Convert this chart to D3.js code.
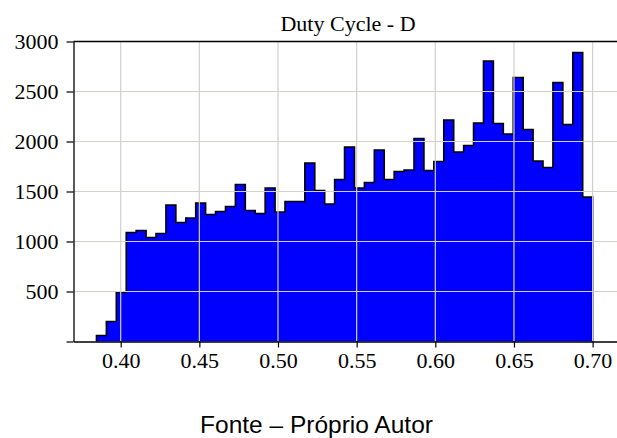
<!DOCTYPE html>
<html>
<head>
<meta charset="utf-8">
<script src="https://cdn.jsdelivr.net/npm/d3@7"></script>
<style>
  body { margin: 0; background: #fff; }
  svg { display: block; }
  .tick text { font-family: "Liberation Serif", "Times New Roman", serif; font-size: 22px; fill: #000; }
  .grid line { stroke: #d3cfcb; stroke-width: 1.2; }
</style>
</head>
<body>
<div class="chart"></div>
<script>
// Histogram of duty cycle values (50 equal bins)
var binLo = 0.3846;
var binHi = 0.70;
var counts = [60, 200, 490, 1090, 1110, 1040, 1080, 1365, 1190, 1235,
              1385, 1270, 1300, 1350, 1570, 1310, 1280, 1535, 1295, 1400,
              1400, 1785, 1510, 1375, 1620, 1945, 1535, 1590, 1915, 1620,
              1700, 1715, 2030, 1710, 1800, 2215, 1895, 1960, 2185, 2805,
              2180, 2075, 2640, 2120, 1805, 1740, 2590, 2170, 2890, 1445];
var xTicks = [0.40, 0.45, 0.50, 0.55, 0.60, 0.65, 0.70];
var yTicks = [0, 500, 1000, 1500, 2000, 2500, 3000];

var svgWidth = 617;
var svgHeight = 438;
var margin = {top: 41.5, right: 0, bottom: 96.5, left: 73.5};
var width = svgWidth - margin.left - margin.right;
var height = svgHeight - margin.top - margin.bottom;

var svg = d3.select(".chart")
    .append("svg")
    .attr("width", svgWidth)
    .attr("height", svgHeight);

var chart = svg.append("g")
    .attr("transform", "translate(" + margin.left + "," + margin.top + ")");

var x = d3.scaleLinear().domain([0.37, 0.7155]).range([0, width]);
var y = d3.scaleLinear().domain([0, 3000]).range([height, 0]);

// bin edges
var binW = (binHi - binLo) / counts.length;
var bins = counts.map(function(c, i) {
    return {x0: binLo + i * binW, x1: binLo + (i + 1) * binW, n: c};
});

// stepfilled outline
var pts = [[x(bins[0].x0), y(0)]];
bins.forEach(function(b) {
    pts.push([x(b.x0), y(b.n)]);
    pts.push([x(b.x1), y(b.n)]);
});
pts.push([x(binHi), y(0)]);

chart.append("path")
    .attr("d", d3.line()(pts))
    .style("fill", "#0000ff")
    .style("stroke", "#000")
    .style("stroke-width", 1.6)
    .style("stroke-linejoin", "miter");

// grid on top
var grid = chart.append("g").attr("class", "grid");
grid.selectAll(".vg")
    .data(xTicks)
    .enter()
    .append("line")
    .attr("x1", function(d) { return x(d); })
    .attr("x2", function(d) { return x(d); })
    .attr("y1", 0)
    .attr("y2", height);
grid.selectAll(".hg")
    .data(yTicks.slice(1))
    .enter()
    .append("line")
    .attr("x1", 0)
    .attr("x2", width)
    .attr("y1", function(d) { return y(d); })
    .attr("y2", function(d) { return y(d); });

// axes
var bottomAxis = d3.axisBottom(x)
    .tickValues(xTicks)
    .tickFormat(d3.format(".2f"))
    .tickSize(6)
    .tickPadding(5)
    .tickSizeOuter(0);

var leftAxis = d3.axisLeft(y)
    .tickValues(yTicks)
    .tickFormat(function(d) { return d === 0 ? "" : d; })
    .tickSize(7)
    .tickPadding(8)
    .tickSizeOuter(0);

var xg = chart.append("g")
    .attr("transform", "translate(0," + height + ")")
    .call(bottomAxis);
var yg = chart.append("g").call(leftAxis);

[xg, yg].forEach(function(g) {
    g.select(".domain").style("stroke", "#000").style("stroke-width", 1.3);
    g.selectAll(".tick line").style("stroke", "#000").style("stroke-width", 1.2);
});
yg.selectAll(".tick text").attr("dy", "0.34em");

// top spine
chart.append("line")
    .attr("x1", 0).attr("x2", width)
    .attr("y1", 0).attr("y2", 0)
    .style("stroke", "#000")
    .style("stroke-width", 1.3);

// title
svg.append("text")
    .attr("x", 348)
    .attr("y", 31)
    .attr("text-anchor", "middle")
    .style("font-family", "'Liberation Serif', 'Times New Roman', serif")
    .style("font-size", "22px")
    .text("Duty Cycle - D");

// source note
svg.append("text")
    .attr("x", 316.5)
    .attr("y", 433)
    .attr("text-anchor", "middle")
    .style("font-family", "'Liberation Sans', Arial, sans-serif")
    .style("font-size", "24.5px")
    .text("Fonte – Próprio Autor");
</script>
</body>
</html>
